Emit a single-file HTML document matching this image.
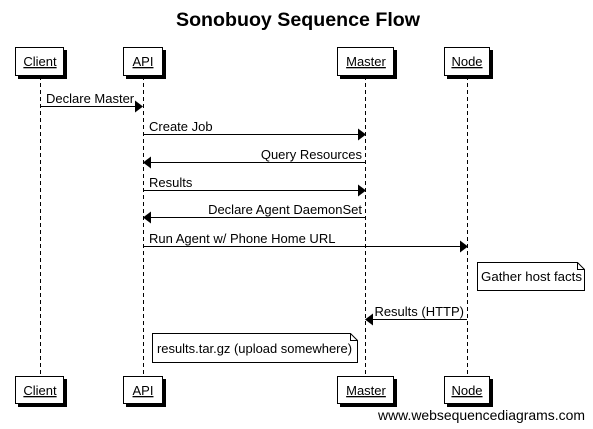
<!DOCTYPE html>
<html><head><meta charset="utf-8"><style>
html,body{margin:0;padding:0;background:#fff;}
svg{display:block;font-family:"Liberation Sans",sans-serif;}
</style></head><body>
<svg width="593" height="429" viewBox="0 0 593 429" xmlns="http://www.w3.org/2000/svg">
<text x="298" y="26" text-anchor="middle" font-size="19" font-weight="bold" textLength="244" lengthAdjust="spacingAndGlyphs">Sonobuoy Sequence Flow</text>
<g stroke="#000" stroke-dasharray="4,3" stroke-width="1">
<line x1="40.5" y1="76" x2="40.5" y2="376"/>
<line x1="143.5" y1="76" x2="143.5" y2="376"/>
<line x1="365.5" y1="76" x2="365.5" y2="376"/>
<line x1="467.5" y1="76" x2="467.5" y2="376"/>
</g>
<g font-size="13">
<g fill="#000"><rect x="18" y="50" width="49" height="29"/><rect x="126" y="50" width="40" height="29"/><rect x="340" y="50" width="57" height="29"/><rect x="447" y="50" width="46" height="29"/>
<rect x="18" y="379" width="49" height="28"/><rect x="126" y="379" width="40" height="28"/><rect x="340" y="379" width="57" height="28"/><rect x="447" y="379" width="46" height="28"/></g>
<g fill="#fff" stroke="#000"><rect x="15.5" y="47.5" width="48" height="28"/><rect x="123.5" y="47.5" width="39" height="28"/><rect x="337.5" y="47.5" width="56" height="28"/><rect x="444.5" y="47.5" width="45" height="28"/>
<rect x="15.5" y="376.5" width="48" height="27"/><rect x="123.5" y="376.5" width="39" height="27"/><rect x="337.5" y="376.5" width="56" height="27"/><rect x="444.5" y="376.5" width="45" height="27"/></g>
<g text-anchor="middle" text-decoration="underline">
<text x="40" y="66">Client</text><text x="143" y="66">API</text><text x="366" y="66">Master</text><text x="467" y="66">Node</text>
<text x="40" y="395">Client</text><text x="143" y="395">API</text><text x="366" y="395">Master</text><text x="467" y="395">Node</text>
</g>
<g stroke="#000">
<line x1="40" y1="106.5" x2="136" y2="106.5"/>
<line x1="143" y1="134.5" x2="358" y2="134.5"/>
<line x1="150" y1="162.5" x2="365" y2="162.5"/>
<line x1="143" y1="190.5" x2="358" y2="190.5"/>
<line x1="150" y1="217.5" x2="365" y2="217.5"/>
<line x1="143" y1="246.5" x2="460" y2="246.5"/>
<line x1="372" y1="319.5" x2="467" y2="319.5"/>
</g>
<g fill="#000">
<polygon points="143,106.5 135,100.5 135,112.5"/>
<polygon points="366,134.5 358,128.5 358,140.5"/>
<polygon points="143,162.5 151,156.5 151,168.5"/>
<polygon points="366,190.5 358,184.5 358,196.5"/>
<polygon points="143,217.5 151,211.5 151,223.5"/>
<polygon points="468,246.5 460,240.5 460,252.5"/>
<polygon points="365,319.5 373,313.5 373,325.5"/>
</g>
<text x="46" y="103">Declare Master</text>
<text x="149" y="131">Create Job</text>
<text x="362" y="159" text-anchor="end">Query Resources</text>
<text x="149" y="187">Results</text>
<text x="362" y="214" text-anchor="end">Declare Agent DaemonSet</text>
<text x="149" y="243">Run Agent w/ Phone Home URL</text>
<text x="464" y="316" text-anchor="end">Results (HTTP)</text>
<path d="M477.5,262.5 H577.5 L584.5,269.5 V290.5 H477.5 Z" fill="#fff" stroke="#000"/>
<path d="M577.5,262.5 V269.5 H584.5" fill="none" stroke="#000"/>
<text x="481" y="281" textLength="101" lengthAdjust="spacingAndGlyphs">Gather host facts</text>
<path d="M152.5,333.5 H350.5 L357.5,340.5 V362.5 H152.5 Z" fill="#fff" stroke="#000"/>
<path d="M350.5,333.5 V340.5 H357.5" fill="none" stroke="#000"/>
<text x="157" y="353" textLength="195" lengthAdjust="spacingAndGlyphs">results.tar.gz (upload somewhere)</text>
<text x="585" y="420" text-anchor="end" font-size="14" textLength="207" lengthAdjust="spacingAndGlyphs">www.websequencediagrams.com</text>
</g>
</svg>
</body></html>
